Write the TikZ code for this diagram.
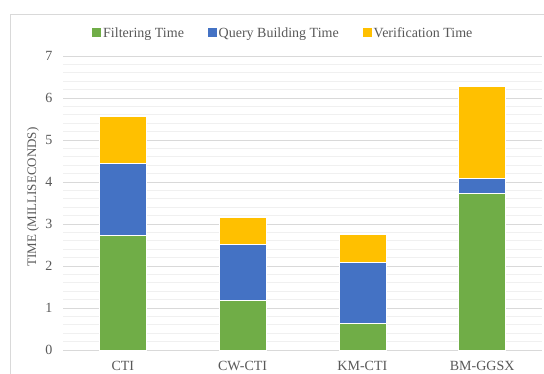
\documentclass[tikz,border=0pt]{standalone}
\usepackage{fontspec}
\setmainfont{Liberation Serif}
\definecolor{fgreen}{HTML}{70AD47}
\definecolor{qblue}{HTML}{4472C4}
\definecolor{vyellow}{HTML}{FFC000}
\definecolor{txtgray}{HTML}{595959}
\definecolor{majgray}{HTML}{D9D9D9}
\definecolor{mingray}{HTML}{F0F0F0}
\begin{document}
\begin{tikzpicture}[x=1pt,y=1pt,
  lbl/.style={text=txtgray, font=\fontsize{14}{16}\selectfont, inner sep=0pt},
  majorgrid/.style={draw=majgray, line width=0.9pt},
  minorgrid/.style={draw=mingray, line width=0.9pt},
  seg/.style={draw=white, line width=0.4pt},
  legsq/.style={minimum size=8.5pt, inner sep=0pt}]
\useasboundingbox (0,0) rectangle (544,374);
\fill[white] (0,0) rectangle (544,374);
% chart frame
\draw[majgray, line width=0.9pt] (10,-5) |- (560,360);
% minor and major gridlines
\foreach \k in {0,...,35}
  \draw[minorgrid] (63,24+8.4*\k) -- (542,24+8.4*\k);
\foreach \v in {0,...,7} {
  \draw[majorgrid] (63,24+42*\v) -- (542,24+42*\v);
  \node[lbl, anchor=east] (tick\v) at (52.5,24+42*\v) {\v};
}
% stacked bars: filtering / query building / verification (cumulative tops)
\foreach \i/\name/\g/\b/\y in {0/CTI/2.73/4.44/5.57, 1/CW-CTI/1.19/2.52/3.17,
                              2/KM-CTI/0.64/2.08/2.75, 3/BM-GGSX/3.74/4.10/6.27} {
  \pgfmathsetmacro\cx{63+119.75*(\i+0.5)}
  \filldraw[seg, fill=fgreen] (\cx-23.5,24) rectangle (\cx+23.5,24+42*\g);
  \filldraw[seg, fill=qblue] (\cx-23.5,24+42*\g) rectangle (\cx+23.5,24+42*\b);
  \filldraw[seg, fill=vyellow] (\cx-23.5,24+42*\b) rectangle (\cx+23.5,24+42*\y);
  \node[lbl] (cat\i) at (\cx,8.5) {\name};
}
% axis title
\node[lbl, font=\fontsize{13}{15}\selectfont, rotate=90] (ytitle) at (33,177) {TIME (MILLISECONDS)};
% legend
\node[legsq, fill=fgreen] (sqG) at (96.5,341.5) {};
\node[lbl, anchor=base west] (legG) at (103,336.5) {Filtering Time};
\node[legsq, fill=qblue] (sqB) at (212.5,341.5) {};
\node[lbl, anchor=base west] (legB) at (218.5,336.5) {Query Building Time};
\node[legsq, fill=vyellow] (sqY) at (367.5,341.5) {};
\node[lbl, anchor=base west] (legY) at (373.5,336.5) {Verification Time};
\end{tikzpicture}
\end{document}
